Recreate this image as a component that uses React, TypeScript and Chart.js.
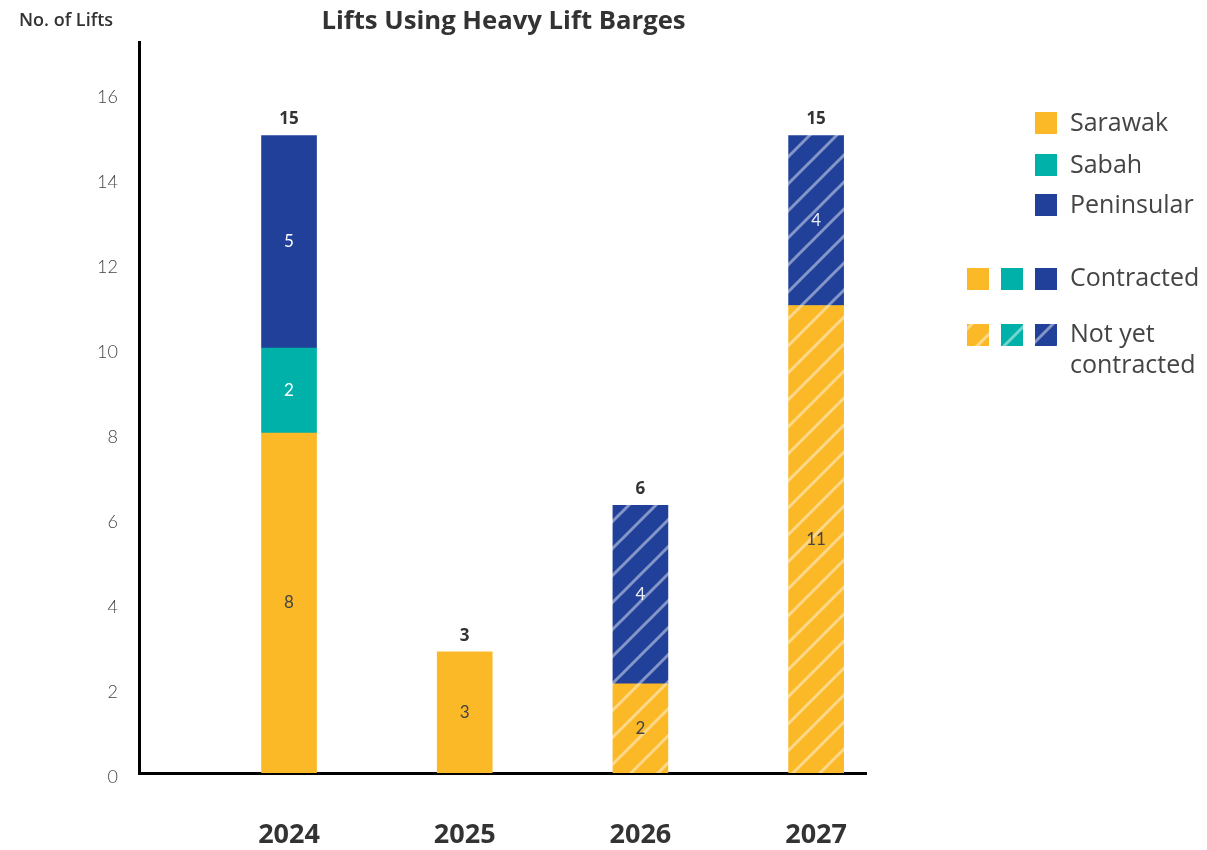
import React, { useEffect, useRef } from "react";
import { Chart, registerables } from "chart.js";

Chart.register(...registerables);

// ---- data ----
const years = ["2024", "2025", "2026", "2027"];
const xPositions = [0, 1, 2, 3];
const sarawakContracted = [8, 2.85, null, null];
const sabahContracted = [2, null, null, null];
const peninsularContracted = [5, null, null, null];
const sarawakNotYet = [null, null, 2.1, 11];
const peninsularNotYet = [null, null, 4.2, 4];
const yTicks = [0, 2, 4, 6, 8, 10, 12, 14, 16];

const YELLOW = "#FBB827";
const TEAL = "#00B1A9";
const BLUE = "#20409A";

function makePattern(color: string): CanvasPattern | string {
  const P = 27;
  const c = document.createElement("canvas");
  c.width = P;
  c.height = P;
  const g = c.getContext("2d");
  if (!g) return color;
  g.fillStyle = color;
  g.fillRect(0, 0, P, P);
  g.strokeStyle = "rgba(255,255,255,0.45)";
  g.lineWidth = 3;
  g.beginPath();
  g.moveTo(-3, P + 3);
  g.lineTo(P + 3, -3);
  g.moveTo(-3, 3);
  g.lineTo(3, -3);
  g.moveTo(P - 3, P + 3);
  g.lineTo(P + 3, P - 3);
  g.stroke();
  return g.createPattern(c, "repeat") || color;
}

const toPoints = (arr: (number | null)[]) =>
  xPositions.map((x, i) => ({ x, y: arr[i] }));

export default function App() {
  const ref = useRef<HTMLCanvasElement>(null);

  useEffect(() => {
    document.body.style.margin = "0";
    const canvas = ref.current;
    if (!canvas) return;

    const yellowPat = makePattern(YELLOW);
    const tealPat = makePattern(TEAL);
    const bluePat = makePattern(BLUE);

    const datasets: any[] = [
      { label: "Sarawak", data: toPoints(sarawakContracted), backgroundColor: YELLOW, textColor: "#444" },
      { label: "Sarawak (not yet)", data: toPoints(sarawakNotYet), backgroundColor: yellowPat, textColor: "#444" },
      { label: "Sabah", data: toPoints(sabahContracted), backgroundColor: TEAL, textColor: "#fff" },
      { label: "Peninsular", data: toPoints(peninsularContracted), backgroundColor: BLUE, textColor: "#fff" },
      { label: "Peninsular (not yet)", data: toPoints(peninsularNotYet), backgroundColor: bluePat, textColor: "rgba(255,255,255,0.9)" },
    ];

    const labelPlugin = {
      id: "customLabels",
      afterDatasetsDraw(chart: any) {
        const ctx = chart.ctx;
        ctx.save();
        ctx.textAlign = "center";
        ctx.textBaseline = "middle";
        const tops: number[] = xPositions.map(() => Infinity);
        const totals: number[] = xPositions.map(() => 0);
        chart.data.datasets.forEach((ds: any, di: number) => {
          const meta = chart.getDatasetMeta(di);
          meta.data.forEach((bar: any, i: number) => {
            const v = ds.data[i].y;
            if (v == null) return;
            totals[i] += v;
            tops[i] = Math.min(tops[i], bar.y);
            ctx.font = "17px Lato";
            ctx.fillStyle = ds.textColor;
            ctx.fillText(String(Math.round(v)), bar.x, (bar.y + bar.base) / 2);
          });
        });
        const xScale = chart.scales.x;
        ctx.font = "bold 17px 'Open Sans'";
        ctx.fillStyle = "#333";
        xPositions.forEach((x, i) => {
          if (tops[i] === Infinity) return;
          ctx.fillText(String(Math.round(totals[i])), xScale.getPixelForValue(x), tops[i] - 16);
        });
        ctx.restore();
      },
      afterDraw(chart: any) {
        const ctx = chart.ctx;
        ctx.save();
        // title
        ctx.fillStyle = "#333";
        ctx.textBaseline = "middle";
        ctx.textAlign = "center";
        ctx.font = "bold 25.7px 'Open Sans'";
        ctx.fillText("Lifts Using Heavy Lift Barges", 503.5, 22);
        // y axis title
        ctx.textAlign = "left";
        ctx.font = "600 18px 'Open Sans'";
        ctx.fillText("No. of Lifts", 19, 21);
        // legend
        const sq = 22;
        const textFont = "25px 'Open Sans'";
        const items = [
          { c: YELLOW, t: "Sarawak", y: 112 },
          { c: TEAL, t: "Sabah", y: 154 },
          { c: BLUE, t: "Peninsular", y: 194 },
        ];
        items.forEach((it) => {
          ctx.fillStyle = it.c;
          ctx.fillRect(1035, it.y, sq, sq);
          ctx.fillStyle = "#444";
          ctx.font = textFont;
          ctx.fillText(it.t, 1070, it.y + sq / 2 + 1);
        });
        const sxs = [967, 1001, 1035];
        [YELLOW, TEAL, BLUE].forEach((c, i) => {
          ctx.fillStyle = c;
          ctx.fillRect(sxs[i], 268, sq, sq);
        });
        ctx.fillStyle = "#444";
        ctx.font = textFont;
        ctx.fillText("Contracted", 1070, 279);
        [yellowPat, tealPat, bluePat].forEach((p, i) => {
          ctx.fillStyle = p;
          ctx.fillRect(sxs[i], 324, sq, sq);
        });
        ctx.fillStyle = "#444";
        ctx.font = textFont;
        ctx.fillText("Not yet", 1070, 335);
        ctx.fillText("contracted", 1070, 366);
        ctx.restore();
      },
    };

    const chart = new Chart(canvas, {
      type: "bar",
      data: { datasets },
      options: {
        animation: false,
        responsive: false,
        layout: { padding: { top: 42, right: 341, left: 0, bottom: 0 } },
        datasets: { bar: { barThickness: 55 } } as any,
        plugins: {
          legend: { display: false },
          tooltip: { enabled: false },
          title: { display: false },
        },
        scales: {
          x: {
            type: "linear",
            stacked: true,
            offset: false,
            min: -0.854,
            max: 3.284,
            grid: { display: false, drawTicks: false, offset: false },
            border: { display: true, color: "#000", width: 3 },
            afterBuildTicks: (s: any) => {
              s.ticks = xPositions.map((v) => ({ value: v }));
            },
            afterFit: (s: any) => {
              s.height = 77;
            },
            ticks: {
              autoSkip: false,
              maxRotation: 0,
              padding: 46,
              color: "#333",
              font: { family: "'Open Sans'", size: 27, weight: "bold" },
              callback: (v: any) => years[v] ?? "",
            },
          } as any,
          y: {
            stacked: true,
            min: 0,
            max: 17.2,
            grid: { display: false, drawTicks: false },
            border: { display: true, color: "#000", width: 3 },
            afterBuildTicks: (s: any) => {
              s.ticks = yTicks.map((v) => ({ value: v }));
            },
            afterFit: (s: any) => {
              s.width = 139;
            },
            ticks: {
              padding: 21,
              labelOffset: 4,
              color: "#444",
              font: { family: "Lato", size: 18, weight: "300" },
            },
          } as any,
        },
      },
      plugins: [labelPlugin],
    });

    return () => chart.destroy();
  }, []);

  return (
    <div style={{ width: 1207, height: 850 }}>
      <canvas ref={ref} width={1207} height={850} style={{ display: "block" }} />
    </div>
  );
}
